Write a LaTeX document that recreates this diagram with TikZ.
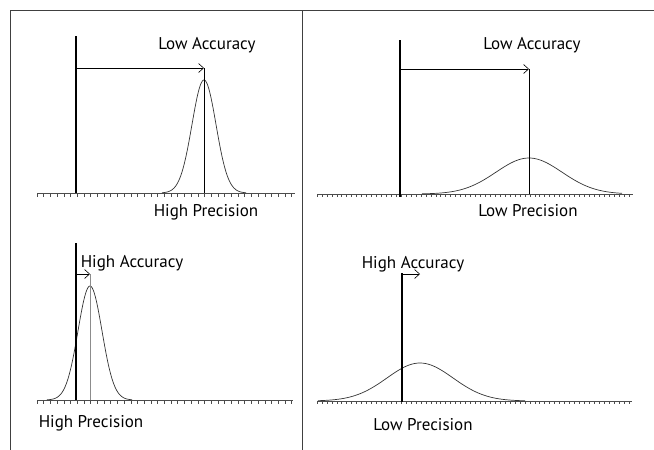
\documentclass[tikz,border=0pt]{standalone}
\usepackage{fontspec}
\setmainfont{PT Sans}
\usetikzlibrary{arrows.meta}
\begin{document}
\begin{tikzpicture}[
    x=1pt, y=-1pt,
    frame/.style={draw=black!75,line width=0.9pt},
    axis/.style={draw=black,line width=1.1pt},
    base/.style={draw=black!70,line width=0.9pt},
    tick/.style={draw=black!70,line width=0.6pt},
    mark line/.style={draw=black,line width=0.6pt},
    curve/.style={draw=black!80,line width=0.7pt},
    arr/.style={-{Straight Barb[length=5pt,width=9pt]},line width=0.6pt},
    lbl/.style={font=\fontsize{17}{19}\selectfont,inner sep=0pt}
]
\useasboundingbox (0,0) rectangle (654,450);
% frame
\draw[frame] (654,10) -- (10,10) -- (10,450);
\draw[frame] (302,10) -- (302,450);

% top left: low accuracy, high precision
\foreach \i in {0,...,38} \draw[tick] ({37+6.7*\i},193) -- ++(0,4);
\draw[base] (37,193) -- (295,193);
\draw[curve] plot[domain=-42:42,samples=80] ({204+\x},{193-113*exp(-0.5*(\x/12)*(\x/12))});
\coordinate (tlA) at (76,68);
\coordinate (tlB) at (204,68);
\coordinate (tlC) at (204,193);
\draw[axis] (76,36) -- (76,193);
\draw[mark line] (tlB) -- (tlC);
\draw[arr] (tlA) -- (tlB);
\node[lbl] (tlacc) at (207,45) {Low Accuracy};
\node[lbl] (tlprec) at (206,212) {High Precision};

% top right: low accuracy, low precision
\foreach \i in {0,...,63} \draw[tick] ({317+4.95*\i},194) -- ++(0,3);
\draw[base] (317,194) -- (633,194);
\draw[curve] plot[domain=-107:93,samples=80] ({529+\x},{194-36*exp(-0.5*(\x/33)*(\x/33))});
\coordinate (trA) at (400,69);
\coordinate (trB) at (529,69);
\coordinate (trC) at (529,194);
\draw[axis] (400,40) -- (400,197);
\draw[mark line] (trB) -- (trC);
\draw[arr] (trA) -- (trB);
\node[lbl] (tracc) at (532,45) {Low Accuracy};
\node[lbl] (trprec) at (528,211) {Low Precision};

% bottom left: high accuracy, high precision
\foreach \i in {0,...,38} \draw[tick] ({37+6.7*\i},400) -- ++(0,4);
\draw[base] (37,400) -- (293,400);
\draw[curve] plot[domain=-43:42,samples=80] ({90+\x},{400-114*exp(-0.5*(\x/12)*(\x/12))});
\coordinate (blA) at (76,274);
\coordinate (blB) at (90,274);
\coordinate (blC) at (90,400);
\draw[axis] (76,243) -- (76,400);
\draw[mark line,draw=black!45] (blB) -- (blC);
\draw[arr] (blA) -- (blB);
\node[lbl] (blacc) at (132,263) {High Accuracy};
\node[lbl] (blprec) at (91,423) {High Precision};

% bottom right: high accuracy, low precision
\foreach \i in {0,...,63} \draw[tick] ({317+4.95*\i},401) -- ++(0,3);
\draw[base] (317,401) -- (632,401);
\draw[curve] plot[domain=-102:105,samples=80] ({420+\x},{401-38*exp(-0.5*(\x/33)*(\x/33))});
\coordinate (brA) at (402,274);
\coordinate (brB) at (420,274);
\draw[axis] (402,273) -- (402,402);
\draw[arr] (brA) -- (brB);
\node[lbl] (bracc) at (413,264) {High Accuracy};
\node[lbl] (brprec) at (423,425) {Low Precision};
\end{tikzpicture}
\end{document}
